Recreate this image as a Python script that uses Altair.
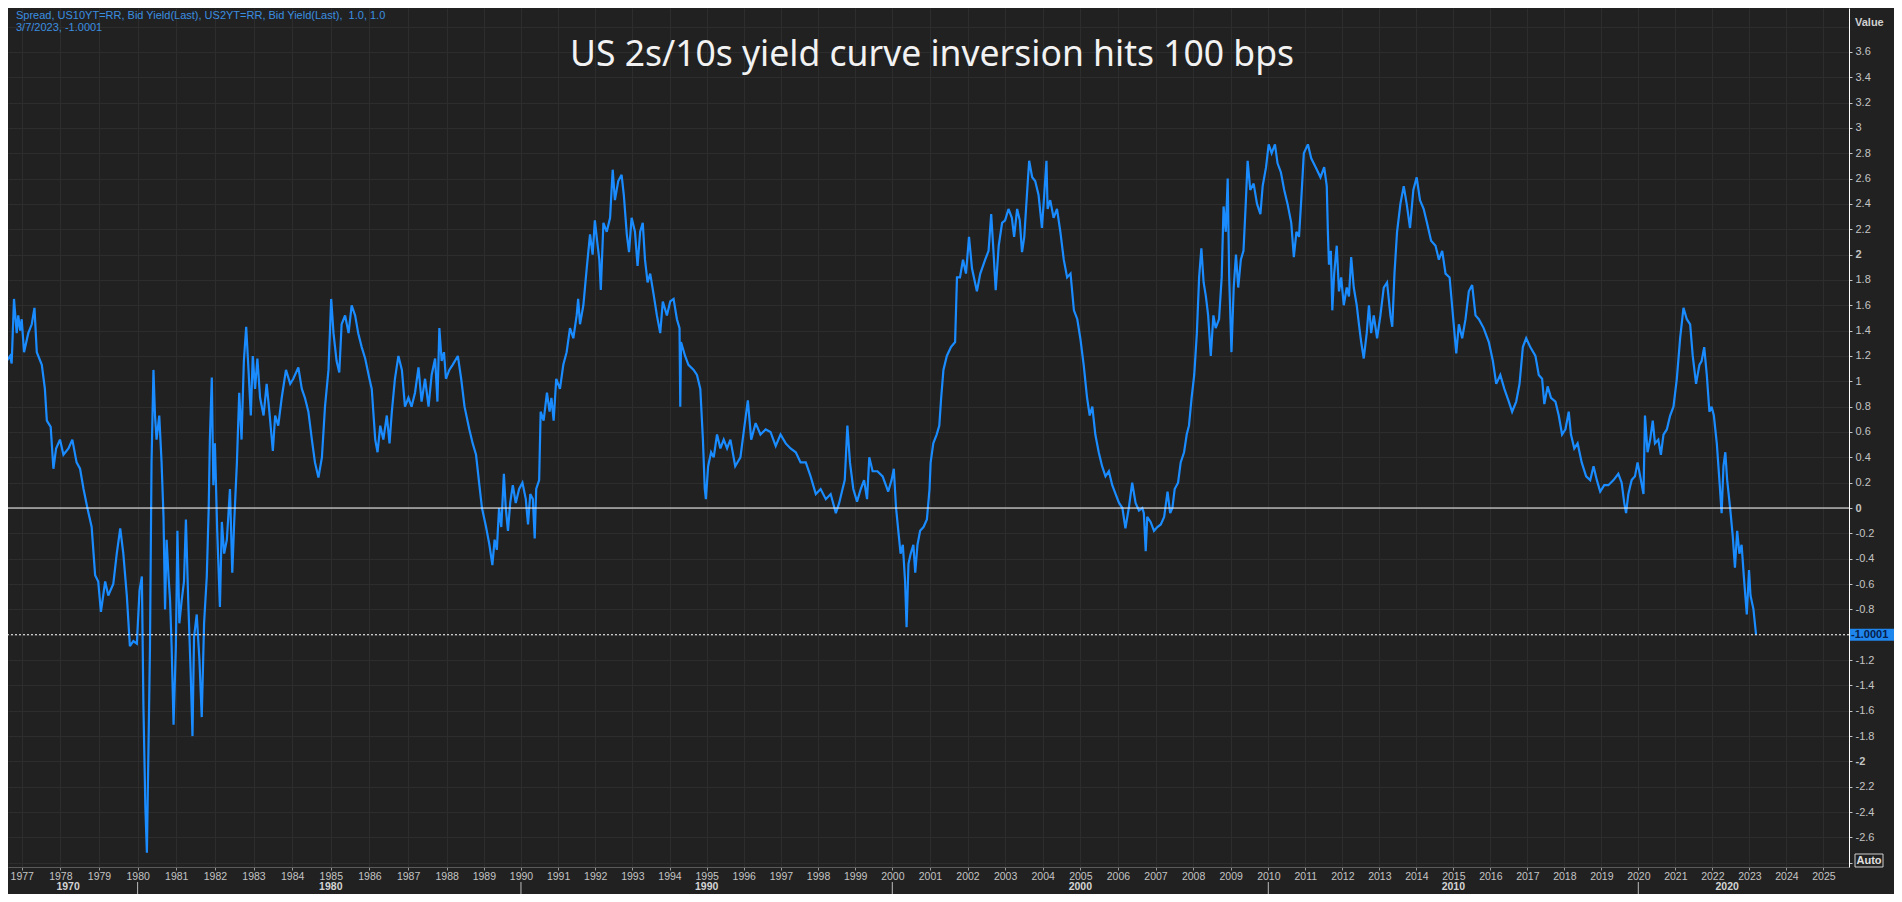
import altair as alt
import pandas as pd

# ---------------- data ----------------
years = [
    1976.44, 1976.53, 1976.61, 1976.70, 1976.74, 1976.80, 1976.87, 1976.91, 1976.96, 1977.00,
    1977.06, 1977.17, 1977.26, 1977.33, 1977.39, 1977.52, 1977.60, 1977.65, 1977.75, 1977.82,
    1977.89, 1977.99, 1978.08, 1978.21, 1978.31, 1978.42, 1978.51, 1978.60, 1978.70, 1978.81,
    1978.90, 1978.98, 1979.05, 1979.16, 1979.24, 1979.37, 1979.46, 1979.55, 1979.63, 1979.72,
    1979.80, 1979.89, 1979.98, 1980.05, 1980.11, 1980.15, 1980.20, 1980.24, 1980.29, 1980.32,
    1980.36, 1980.41, 1980.45, 1980.49, 1980.56, 1980.62, 1980.67, 1980.71, 1980.75, 1980.80,
    1980.84, 1980.88, 1980.93, 1980.99, 1981.03, 1981.08, 1981.14, 1981.20, 1981.25, 1981.31,
    1981.37, 1981.42, 1981.46, 1981.53, 1981.60, 1981.66, 1981.72, 1981.79, 1981.84, 1981.87,
    1981.92, 1981.96, 1982.00, 1982.06, 1982.13, 1982.18, 1982.24, 1982.31, 1982.39, 1982.45,
    1982.50, 1982.57, 1982.63, 1982.69, 1982.75, 1982.81, 1982.87, 1982.93, 1982.98, 1983.04,
    1983.10, 1983.17, 1983.26, 1983.34, 1983.41, 1983.50, 1983.56, 1983.64, 1983.73, 1983.84,
    1983.95, 1984.03, 1984.16, 1984.25, 1984.33, 1984.42, 1984.51, 1984.59, 1984.68, 1984.77,
    1984.85, 1984.94, 1985.01, 1985.07, 1985.15, 1985.22, 1985.28, 1985.37, 1985.46, 1985.54,
    1985.63, 1985.71, 1985.80, 1985.89, 1986.00, 1986.06, 1986.15, 1986.21, 1986.28, 1986.36,
    1986.45, 1986.52, 1986.58, 1986.66, 1986.75, 1986.84, 1986.92, 1987.01, 1987.09, 1987.18,
    1987.27, 1987.35, 1987.44, 1987.53, 1987.61, 1987.70, 1987.76, 1987.81, 1987.87, 1987.93,
    1987.98, 1988.07, 1988.16, 1988.30, 1988.39, 1988.48, 1988.61, 1988.70, 1988.79, 1988.88,
    1988.95, 1989.06, 1989.15, 1989.23, 1989.29, 1989.35, 1989.41, 1989.47, 1989.54, 1989.59,
    1989.65, 1989.71, 1989.78, 1989.86, 1989.95, 1990.04, 1990.13, 1990.19, 1990.25, 1990.32,
    1990.37, 1990.41, 1990.49, 1990.53, 1990.61, 1990.70, 1990.77, 1990.82, 1990.88, 1990.95,
    1991.05, 1991.14, 1991.23, 1991.32, 1991.41, 1991.50, 1991.54, 1991.59, 1991.68, 1991.77,
    1991.86, 1991.93, 1991.99, 1992.05, 1992.11, 1992.15, 1992.22, 1992.31, 1992.40, 1992.47,
    1992.53, 1992.62, 1992.71, 1992.77, 1992.85, 1992.91, 1992.98, 1993.07, 1993.14, 1993.21,
    1993.28, 1993.34, 1993.41, 1993.48, 1993.57, 1993.66, 1993.75, 1993.82, 1993.93, 1994.02,
    1994.11, 1994.20, 1994.27, 1994.29, 1994.31, 1994.42, 1994.51, 1994.65, 1994.74, 1994.83,
    1994.90, 1994.95, 1994.98, 1995.04, 1995.12, 1995.19, 1995.28, 1995.37, 1995.46, 1995.55,
    1995.64, 1995.77, 1995.91, 1996.02, 1996.11, 1996.20, 1996.32, 1996.45, 1996.59, 1996.72,
    1996.86, 1996.99, 1997.13, 1997.26, 1997.40, 1997.53, 1997.67, 1997.80, 1997.94, 1998.07,
    1998.21, 1998.34, 1998.48, 1998.57, 1998.66, 1998.72, 1998.79, 1998.86, 1998.95, 1999.05,
    1999.15, 1999.24, 1999.32, 1999.38, 1999.47, 1999.60, 1999.74, 1999.89, 1999.98, 2000.04,
    2000.10, 2000.16, 2000.22, 2000.28, 2000.34, 2000.38, 2000.43, 2000.49, 2000.56, 2000.61,
    2000.67, 2000.74, 2000.83, 2000.92, 2000.99, 2001.02, 2001.09, 2001.18, 2001.25, 2001.30,
    2001.36, 2001.45, 2001.56, 2001.67, 2001.72, 2001.80, 2001.88, 2001.96, 2002.04, 2002.12,
    2002.25, 2002.34, 2002.47, 2002.56, 2002.63, 2002.69, 2002.75, 2002.83, 2002.92, 2003.00,
    2003.09, 2003.18, 2003.24, 2003.32, 2003.39, 2003.45, 2003.51, 2003.58, 2003.64, 2003.72,
    2003.80, 2003.89, 2003.98, 2004.04, 2004.10, 2004.13, 2004.20, 2004.29, 2004.38, 2004.47,
    2004.56, 2004.65, 2004.74, 2004.83, 2004.92, 2005.00, 2005.09, 2005.18, 2005.25, 2005.32,
    2005.40, 2005.49, 2005.58, 2005.67, 2005.76, 2005.85, 2005.94, 2006.03, 2006.12, 2006.20,
    2006.29, 2006.38, 2006.47, 2006.56, 2006.65, 2006.69, 2006.74, 2006.78, 2006.87, 2006.96,
    2007.05, 2007.14, 2007.23, 2007.32, 2007.39, 2007.45, 2007.51, 2007.60, 2007.67, 2007.76,
    2007.83, 2007.89, 2007.96, 2008.03, 2008.10, 2008.16, 2008.22, 2008.28, 2008.34, 2008.40,
    2008.47, 2008.54, 2008.60, 2008.69, 2008.76, 2008.81, 2008.87, 2008.92, 2008.96, 2009.02,
    2009.08, 2009.14, 2009.20, 2009.27, 2009.34, 2009.40, 2009.45, 2009.52, 2009.61, 2009.70,
    2009.79, 2009.85, 2009.94, 2010.01, 2010.09, 2010.18, 2010.25, 2010.34, 2010.43, 2010.52,
    2010.62, 2010.69, 2010.76, 2010.83, 2010.89, 2010.96, 2011.07, 2011.16, 2011.28, 2011.41,
    2011.51, 2011.58, 2011.61, 2011.64, 2011.69, 2011.73, 2011.78, 2011.85, 2011.91, 2011.97,
    2012.04, 2012.12, 2012.18, 2012.24, 2012.31, 2012.39, 2012.45, 2012.51, 2012.58, 2012.66,
    2012.72, 2012.78, 2012.85, 2012.94, 2013.03, 2013.12, 2013.21, 2013.30, 2013.35, 2013.41,
    2013.48, 2013.57, 2013.66, 2013.74, 2013.83, 2013.92, 2014.01, 2014.10, 2014.20, 2014.29,
    2014.40, 2014.52, 2014.61, 2014.70, 2014.79, 2014.90, 2014.99, 2015.08, 2015.15, 2015.24,
    2015.33, 2015.42, 2015.51, 2015.60, 2015.69, 2015.82, 2015.96, 2016.07, 2016.16, 2016.27,
    2016.38, 2016.50, 2016.59, 2016.70, 2016.79, 2016.88, 2016.97, 2017.08, 2017.22, 2017.31,
    2017.40, 2017.46, 2017.55, 2017.64, 2017.76, 2017.85, 2017.94, 2018.03, 2018.12, 2018.18,
    2018.27, 2018.36, 2018.47, 2018.59, 2018.70, 2018.79, 2018.88, 2018.97, 2019.08, 2019.19,
    2019.33, 2019.46, 2019.55, 2019.62, 2019.67, 2019.73, 2019.82, 2019.91, 2019.98, 2020.07,
    2020.14, 2020.18, 2020.25, 2020.32, 2020.39, 2020.45, 2020.54, 2020.61, 2020.68, 2020.77,
    2020.86, 2020.95, 2021.04, 2021.13, 2021.22, 2021.31, 2021.40, 2021.47, 2021.56, 2021.65,
    2021.71, 2021.78, 2021.85, 2021.92, 2021.98, 2022.04, 2022.12, 2022.19, 2022.25, 2022.30,
    2022.35, 2022.40, 2022.48, 2022.55, 2022.61, 2022.67, 2022.73, 2022.79, 2022.85, 2022.93,
    2022.99, 2023.03, 2023.11, 2023.18,
]

spread = [
    0.84, 0.87, 1.16, 1.20, 1.14, 1.65, 1.38, 1.52, 1.40, 1.49,
    1.23, 1.38, 1.45, 1.58, 1.23, 1.13, 0.94, 0.69, 0.64, 0.31,
    0.47, 0.54, 0.42, 0.47, 0.54, 0.36, 0.31, 0.15, 0.00, -0.15,
    -0.53, -0.58, -0.82, -0.58, -0.69, -0.60, -0.36, -0.16, -0.36, -0.69,
    -1.09, -1.05, -1.07, -0.65, -0.54, -1.56, -2.36, -2.72, -1.71, -1.09,
    0.36, 1.09, 0.73, 0.54, 0.73, 0.36, -0.07, -0.80, -0.25, -0.54,
    -0.73, -1.09, -1.71, -1.09, -0.18, -0.91, -0.73, -0.58, -0.09, -0.73,
    -1.27, -1.80, -1.02, -0.84, -1.20, -1.65, -0.91, -0.54, 0.00, 0.54,
    1.03, 0.18, 0.51, -0.18, -0.78, -0.11, -0.36, -0.25, 0.15, -0.51,
    -0.11, 0.36, 0.91, 0.54, 1.16, 1.43, 1.09, 0.73, 1.20, 0.94,
    1.18, 0.87, 0.73, 0.98, 0.76, 0.45, 0.73, 0.65, 0.87, 1.09,
    0.98, 1.02, 1.11, 0.94, 0.87, 0.76, 0.54, 0.36, 0.24, 0.40,
    0.80, 1.09, 1.65, 1.38, 1.16, 1.07, 1.45, 1.52, 1.38, 1.60,
    1.52, 1.38, 1.27, 1.18, 1.02, 0.94, 0.54, 0.44, 0.65, 0.54,
    0.73, 0.51, 0.76, 1.02, 1.20, 1.09, 0.80, 0.87, 0.80, 0.91,
    1.11, 0.84, 1.02, 0.80, 1.05, 1.18, 0.84, 1.42, 1.16, 1.23,
    1.02, 1.09, 1.13, 1.20, 1.02, 0.80, 0.62, 0.51, 0.42, 0.18,
    0.00, -0.15, -0.29, -0.45, -0.25, -0.33, 0.00, -0.15, 0.27, 0.00,
    -0.18, 0.04, 0.18, 0.04, 0.15, 0.20, 0.07, -0.13, 0.11, 0.07,
    -0.24, 0.15, 0.22, 0.76, 0.69, 0.91, 0.76, 0.87, 0.69, 1.02,
    0.94, 1.13, 1.23, 1.42, 1.34, 1.52, 1.65, 1.45, 1.60, 1.89,
    2.16, 2.00, 2.27, 2.11, 1.96, 1.72, 2.25, 2.18, 2.29, 2.67,
    2.43, 2.58, 2.63, 2.47, 2.16, 2.02, 2.29, 2.18, 1.91, 2.18,
    2.25, 1.96, 1.78, 1.85, 1.69, 1.52, 1.38, 1.63, 1.52, 1.63,
    1.65, 1.49, 1.42, 0.80, 1.31, 1.20, 1.13, 1.09, 1.05, 0.94,
    0.54, 0.15, 0.07, 0.33, 0.44, 0.40, 0.58, 0.47, 0.54, 0.47,
    0.54, 0.33, 0.40, 0.65, 0.85, 0.54, 0.67, 0.58, 0.62, 0.60,
    0.49, 0.58, 0.51, 0.47, 0.44, 0.36, 0.36, 0.25, 0.11, 0.15,
    0.07, 0.11, -0.04, 0.04, 0.15, 0.22, 0.65, 0.36, 0.15, 0.05,
    0.15, 0.22, 0.07, 0.40, 0.29, 0.29, 0.25, 0.13, 0.22, 0.31,
    0.00, -0.18, -0.36, -0.29, -0.58, -0.94, -0.44, -0.36, -0.29, -0.51,
    -0.29, -0.18, -0.15, -0.09, 0.15, 0.36, 0.51, 0.58, 0.65, 0.87,
    1.09, 1.20, 1.27, 1.31, 1.82, 1.82, 1.96, 1.85, 2.14, 1.89,
    1.71, 1.85, 1.96, 2.03, 2.32, 2.03, 1.72, 2.07, 2.25, 2.27,
    2.36, 2.29, 2.14, 2.36, 2.27, 2.02, 2.14, 2.47, 2.74, 2.61,
    2.58, 2.47, 2.21, 2.47, 2.74, 2.36, 2.43, 2.29, 2.36, 2.18,
    1.96, 1.82, 1.85, 1.56, 1.49, 1.34, 1.13, 0.87, 0.73, 0.80,
    0.58, 0.44, 0.33, 0.25, 0.29, 0.18, 0.11, 0.04, 0.00, -0.16,
    0.00, 0.20, 0.04, -0.02, 0.00, -0.04, -0.34, -0.07, -0.11, -0.18,
    -0.15, -0.13, -0.07, 0.13, -0.04, 0.00, 0.15, 0.20, 0.36, 0.44,
    0.58, 0.65, 0.87, 1.05, 1.38, 1.82, 2.05, 1.78, 1.67, 1.52,
    1.20, 1.52, 1.42, 1.49, 1.82, 2.38, 2.18, 2.60, 1.82, 1.23,
    1.74, 2.00, 1.74, 1.96, 2.03, 2.40, 2.74, 2.51, 2.56, 2.40,
    2.32, 2.54, 2.69, 2.87, 2.80, 2.87, 2.72, 2.65, 2.51, 2.40,
    2.25, 1.98, 2.18, 2.14, 2.43, 2.80, 2.87, 2.76, 2.69, 2.61,
    2.69, 2.54, 2.18, 1.92, 2.03, 1.56, 1.85, 2.07, 1.71, 1.82,
    1.60, 1.74, 1.67, 1.98, 1.74, 1.60, 1.45, 1.31, 1.18, 1.38,
    1.60, 1.38, 1.52, 1.34, 1.52, 1.74, 1.78, 1.52, 1.43, 1.85,
    2.18, 2.40, 2.54, 2.40, 2.21, 2.51, 2.61, 2.43, 2.36, 2.25,
    2.11, 2.07, 1.96, 2.03, 1.85, 1.82, 1.52, 1.22, 1.45, 1.34,
    1.49, 1.71, 1.76, 1.52, 1.49, 1.42, 1.31, 1.16, 0.98, 1.05,
    0.94, 0.84, 0.76, 0.84, 0.98, 1.27, 1.34, 1.27, 1.20, 1.05,
    1.02, 0.82, 0.96, 0.87, 0.84, 0.73, 0.58, 0.62, 0.76, 0.58,
    0.47, 0.51, 0.36, 0.25, 0.22, 0.33, 0.22, 0.13, 0.18, 0.18,
    0.22, 0.27, 0.20, 0.04, -0.04, 0.11, 0.22, 0.25, 0.36, 0.22,
    0.11, 0.73, 0.44, 0.54, 0.69, 0.51, 0.54, 0.42, 0.58, 0.62,
    0.73, 0.80, 1.02, 1.34, 1.58, 1.49, 1.45, 1.20, 0.98, 1.13,
    1.16, 1.27, 1.05, 0.76, 0.80, 0.73, 0.51, 0.22, -0.04, 0.33,
    0.44, 0.22, 0.00, -0.22, -0.47, -0.18, -0.36, -0.29, -0.54, -0.84,
    -0.49, -0.69, -0.80, -1.0001,
]

year_ticks = list(range(1977, 2026))
value_ticks = [round(-2.8 + 0.2 * i, 1) for i in range(34)]
decade_labels = ["1970", "1980", "1990", "2000", "2010", "2020"]
decade_label_years = [1978.2, 1985.0, 1995.0, 2005.0, 2015.0, 2022.4]
decade_marks = [1980, 1990, 2000, 2010, 2020]
last_value = -1.0001
last_date = "3/7/2023"
title_text = "US 2s/10s yield curve inversion hits 100 bps"
legend_line = "Spread, US10YT=RR, Bid Yield(Last), US2YT=RR, Bid Yield(Last),\u00a0 1.0, 1.0"

# ---------------- layout ----------------
W, H = 1841, 859
BG = "#212121"
GRID = "#2d2d2d"
LINE = "#1a8cff"
AXIS_TXT = "#c4c4c4"
FONT = "Liberation Sans"

x_scale = alt.Scale(domain=[1976.645, 1988, 2000, 2010, 2020, 2025.69],
                    range=[0, 438.7, 884.3, 1260.3, 1630.3, 1841],
                    nice=False, zero=False)
y_scale = alt.Scale(domain=[-2.833, 3.946], nice=False, zero=False)

x_axis = alt.Axis(values=year_ticks, format="d", title=None, orient="bottom",
                  labelFont=FONT, labelFontSize=10.5, labelColor=AXIS_TXT,
                  labelPadding=1, labelOverlap=False, labelFlush=False,
                  tickSize=3, tickColor="#9a9a9a", domainColor="#5a5a5a",
                  grid=True, gridColor=GRID, gridWidth=1)
y_axis = alt.Axis(values=value_ticks, title=None, orient="right",
                  labelExpr="datum.value == -1 || datum.value > 3.7 || datum.value < -2.7 ? '' : '' + datum.value",
                  labelFont=FONT, labelFontSize=11, labelColor=AXIS_TXT,
                  labelFontWeight={"condition": {"test": "datum.value == 2 || datum.value == 0 || datum.value == -2", "value": "bold"}, "value": "normal"},
                  labelAlign="left", labelPadding=3, labelOverlap=False, labelFlush=False,
                  tickSize=3, tickColor="#c4c4c4",
                  tickOpacity={"condition": {"test": "datum.value > 3.7", "value": 0}, "value": 1},
                  domainColor="#ffffff", domainWidth=1,
                  grid=True, gridColor=GRID, gridWidth=1)

X = alt.X("year:Q", scale=x_scale, axis=x_axis)
Y = alt.Y("spread:Q", scale=y_scale, axis=y_axis)

df = pd.DataFrame({"year": years, "spread": spread})

line = alt.Chart(df).mark_line(color=LINE, strokeWidth=2.2, clip=True,
                               strokeJoin="miter", strokeMiterLimit=3).encode(x=X, y=Y)

zero_rule = alt.Chart(pd.DataFrame({"spread": [0.0]})).mark_rule(
    color="#ffffff", strokeWidth=1).encode(y=Y)
last_rule = alt.Chart(pd.DataFrame({"spread": [last_value]})).mark_rule(
    color="#ffffff", strokeWidth=1, strokeDash=[2, 2]).encode(y=Y)

last_box = alt.Chart(pd.DataFrame({"spread": [last_value]})).mark_rect(
    color="#1f86ee", yOffset=-6, y2Offset=6).encode(
    x=alt.value(W + 1), x2=alt.value(W + 49), y=Y, y2=alt.Y2("spread:Q"))
last_txt = alt.Chart(pd.DataFrame({"spread": [last_value], "t": [f"{last_value:.4f}"]})).mark_text(
    align="left", baseline="middle", font=FONT, fontSize=11, fontWeight="bold",
    color="#08204a").encode(x=alt.value(W + 2), y=Y, text="t:N")


def text_layer(txt, x, y, **kw):
    return alt.Chart(pd.DataFrame({"t": [txt]})).mark_text(**kw).encode(
        x=alt.value(x), y=alt.value(y), text="t:N")


title = text_layer(title_text, 924, 58, font="Noto Sans", fontSize=35.5, color="#f2f2f2",
                   align="center", baseline="alphabetic")
legend1 = text_layer(legend_line, 8, 8, font=FONT, fontSize=11, color="#3b8fe0",
                     align="left", baseline="middle")
legend2 = text_layer(f"{last_date}, {last_value}", 8, 20, font=FONT, fontSize=11,
                     color="#3b8fe0", align="left", baseline="middle")
value_hdr = text_layer("Value", W + 6, 15, font=FONT, fontSize=11, fontWeight="bold",
                       color="#d0d0d0", align="left", baseline="middle")

auto_box = alt.Chart(pd.DataFrame({"a": [1]})).mark_rect(
    fill=BG, stroke="#cfcfcf", strokeWidth=1).encode(
    x=alt.value(W + 6), x2=alt.value(W + 34), y=alt.value(H - 13), y2=alt.value(H))
auto_txt = text_layer("Auto", W + 20, H - 6, font=FONT, fontSize=11, fontWeight="bold",
                      color="#e0e0e0", align="center", baseline="middle")

dec_df = pd.DataFrame({"year": decade_label_years, "lbl": decade_labels})
dec_txt = alt.Chart(dec_df).mark_text(font=FONT, fontSize=10.5, fontWeight="bold",
                                      color="#d4d4d4", baseline="middle").encode(
    x=X, y=alt.value(H + 20), text="lbl:N")
sep = alt.Chart(pd.DataFrame({"year": decade_marks})).mark_rule(
    color="#bdbdbd", strokeWidth=1).encode(x=X, y=alt.value(H + 15), y2=alt.value(H + 27))

chart = alt.layer(
    line, zero_rule, last_rule, last_box, last_txt, title, legend1, legend2,
    value_hdr, auto_box, auto_txt, dec_txt, sep,
).properties(
    width=W, height=H, background=BG,
    autosize=alt.AutoSizeParams(type="none"),
    padding={"left": 0, "top": 0, "right": 45, "bottom": 27},
).configure_view(stroke=None)

chart.save("out.html", embed_options={"renderer": "svg", "actions": False})
